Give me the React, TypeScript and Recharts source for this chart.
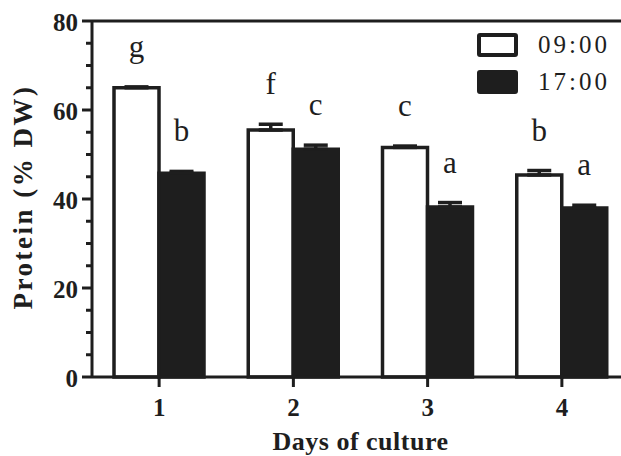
import React from 'react';
import {
  BarChart, Bar, XAxis, YAxis, ErrorBar, LabelList, Legend, ReferenceLine, Label,
} from 'recharts';

const days = ['1', '2', '3', '4'];
const morning = [65, 55.5, 51.6, 45.4];
const morningErr = [0.2, 1.3, 0.3, 1.0];
const evening = [45.8, 51.2, 38.2, 38.0];
const eveningErr = [0.4, 0.9, 1.0, 0.6];
const morningLetters = ['g', 'f', 'c', 'b'];
const eveningLetters = ['b', 'c', 'a', 'a'];
const yTicks = [0, 5, 10, 15, 20, 25, 30, 35, 40, 45, 50, 55, 60, 65, 70, 75, 80];

const INK = '#1e1e1e';
const SERIF = '"Liberation Serif", "Times New Roman", serif';
const Y_MAX = 80;
const TOP = 21;
const X_AXIS_H = 79;
const CHART_W = 640;
const CHART_H = 456;
const Y_AXIS_W = 92;
const PLOT_H = CHART_H - TOP - X_AXIS_H;
const PX_PER_UNIT = PLOT_H / Y_MAX;

const data = days.map((d, i) => ({
  day: d,
  am: morning[i],
  amErr: [0, morningErr[i]],
  amLetter: morningLetters[i],
  pm: evening[i],
  pmErr: [0, eveningErr[i]],
  pmLetter: eveningLetters[i],
}));

function YTick({ y, payload }: any) {
  const major = payload.value % 20 === 0;
  return (
    <g>
      <line x1={Y_AXIS_W - (major ? 10 : 6)} x2={Y_AXIS_W} y1={y} y2={y} stroke={INK} strokeWidth={3} />
      {major && (
        <text
          x={Y_AXIS_W - 14}
          y={y + 1}
          textAnchor="end"
          dominantBaseline="central"
          fontFamily={SERIF}
          fontWeight="bold"
          fontSize={25}
          fill={INK}
        >
          {payload.value}
        </text>
      )}
    </g>
  );
}

function XTick({ x, payload }: any) {
  const y0 = TOP + PLOT_H;
  return (
    <g>
      <line x1={x} x2={x} y1={y0} y2={y0 + 10} stroke={INK} strokeWidth={3} />
      <text x={x} y={y0 + 39} textAnchor="middle" fontFamily={SERIF} fontWeight="bold" fontSize={25} fill={INK}>
        {payload.value}
      </text>
    </g>
  );
}

// significance letter sits above the top of the error bar
function letterContent(errs: number[]) {
  return (props: any) => {
    const vb = props.viewBox || props;
    const top = vb.y - errs[props.index] * PX_PER_UNIT;
    return (
      <text
        x={vb.x + vb.width / 2}
        y={top - 30}
        textAnchor="middle"
        fontFamily={SERIF}
        fontSize={31}
        fill={INK}
      >
        {props.value}
      </text>
    );
  };
}

function LegendBox({ payload }: any) {
  return (
    <div style={{ fontFamily: SERIF }}>
      {(payload || []).map((p: any, i: number) => {
        const filled = p.payload?.fill === INK;
        return (
          <div key={i} style={{ display: 'flex', alignItems: 'center', height: 37 }}>
            <div
              style={{
                width: 33,
                height: 16,
                border: `4px solid ${INK}`,
                borderRadius: 3,
                background: filled ? INK : '#fff',
              }}
            />
            <span style={{ marginLeft: 20, fontSize: 25, letterSpacing: 3, color: INK }}>{p.value}</span>
          </div>
        );
      })}
    </div>
  );
}

export default function App() {
  return (
    <div style={{ position: 'absolute', left: 0, top: 0, width: 621, height: 456, overflow: 'hidden', background: '#fff' }}>
      <BarChart
        width={CHART_W}
        height={CHART_H}
        data={data}
        margin={{ top: TOP, right: 11, left: 0, bottom: 0 }}
        barSize={45}
        barGap={0}
      >
        <XAxis
          dataKey="day"
          height={X_AXIS_H}
          axisLine={{ stroke: INK, strokeWidth: 3 }}
          tickLine={false}
          tick={<XTick />}
        >
          <Label
            content={(p: any) => (
              <text
                x={p.viewBox.x + p.viewBox.width / 2}
                y={p.viewBox.y + 73}
                textAnchor="middle"
                fontFamily={SERIF}
                fontWeight="bold"
                fontSize={26}
                letterSpacing={0.5}
                fill={INK}
              >
                Days of culture
              </text>
            )}
          />
        </XAxis>
        <YAxis
          width={Y_AXIS_W}
          domain={[0, Y_MAX]}
          ticks={yTicks}
          interval={0}
          axisLine={{ stroke: INK, strokeWidth: 3 }}
          tickLine={false}
          tick={<YTick />}
        >
          <Label
            content={(p: any) => {
              const cx = 23;
              const cy = p.viewBox.y + p.viewBox.height / 2 - 2;
              return (
                <text
                  x={cx}
                  y={cy}
                  transform={`rotate(-90, ${cx}, ${cy})`}
                  textAnchor="middle"
                  dominantBaseline="central"
                  fontFamily={SERIF}
                  fontWeight="bold"
                  fontSize={27}
                  letterSpacing={2.5}
                  fill={INK}
                >
                  Protein (% DW)
                </text>
              );
            }}
          />
        </YAxis>
        <ReferenceLine y={Y_MAX} stroke={INK} strokeWidth={3} />
        <Legend
          layout="horizontal"
          verticalAlign="middle"
          align="center"
          content={<LegendBox />}
          wrapperStyle={{ position: 'absolute', left: 477, top: 26, width: 160 }}
        />
        <Bar dataKey="am" name="09:00" fill="#fff" stroke={INK} strokeWidth={3.5} isAnimationActive={false}>
          <ErrorBar dataKey="amErr" width={12} stroke={INK} strokeWidth={3.5} direction="y" />
          <LabelList dataKey="amLetter" content={letterContent(morningErr)} />
        </Bar>
        <Bar dataKey="pm" name="17:00" fill={INK} stroke={INK} strokeWidth={3.5} isAnimationActive={false}>
          <ErrorBar dataKey="pmErr" width={12} stroke={INK} strokeWidth={3.5} direction="y" />
          <LabelList dataKey="pmLetter" content={letterContent(eveningErr)} />
        </Bar>
      </BarChart>
    </div>
  );
}
